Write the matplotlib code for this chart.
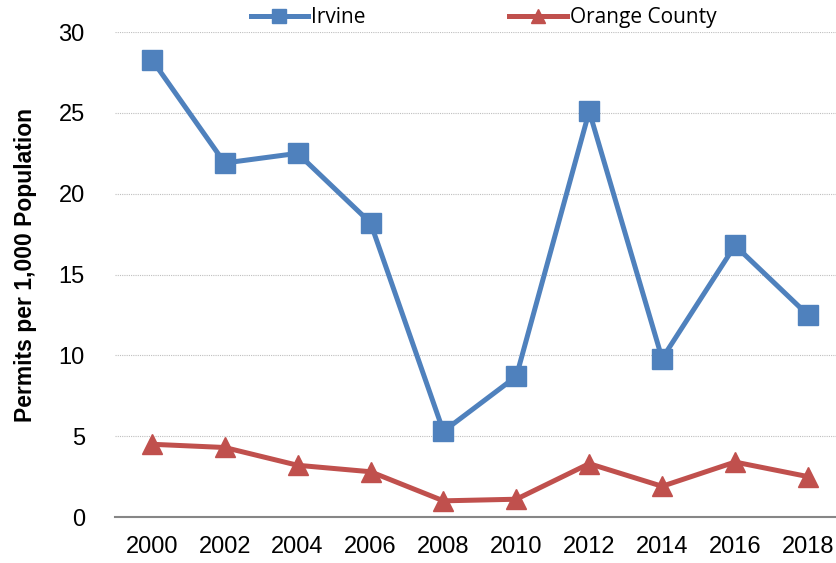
import matplotlib.pyplot as plt
import numpy as np

years = ['2000', '2002', '2004', '2006', '2008', '2010', '2012', '2014', '2016', '2018']
irvine = [28.3, 21.9, 22.5, 18.2, 5.3, 8.7, 25.1, 9.8, 16.8, 12.5]
orange_county = [4.5, 4.3, 3.2, 2.8, 1.0, 1.1, 3.3, 1.9, 3.4, 2.5]

fig = plt.figure(figsize=(8.36, 5.63), dpi=100)
ax = fig.add_axes([0.138, 0.0817, 0.872, 0.8613])

x = np.arange(len(years))
ax.plot(x, irvine, color='#4F81BD', lw=3.6, marker='s', ms=14, label='Irvine')
ax.plot(x, orange_county, color='#C0504D', lw=3.6, marker='^', ms=14, label='Orange County')

ax.set_xlim(-0.5, len(years) - 0.5)
ax.set_ylim(0, 30)
ax.set_yticks(range(0, 31, 5))
ax.set_xticks(x)
ax.set_xticklabels(years)

for lab in ax.get_xticklabels() + ax.get_yticklabels():
    lab.set_family('Liberation Sans')
    lab.set_fontsize(17)

ax.yaxis.grid(True, color='#BFBFBF', linestyle=(0, (1, 1)), lw=0.8)
ax.set_axisbelow(True)
for side in ['top', 'right', 'left']:
    ax.spines[side].set_visible(False)
ax.spines['bottom'].set_color('#868686')
ax.spines['bottom'].set_linewidth(1.5)
ax.tick_params(axis='both', length=0)
ax.tick_params(axis='x', pad=14)
ax.tick_params(axis='y', pad=22)

ax.set_ylabel('Permits per 1,000 Population', fontsize=16.5, fontweight='bold',
              family='Liberation Sans')
ax.yaxis.set_label_coords(-0.108, 0.519)

leg = ax.legend(loc='center', bbox_to_anchor=(0.505, 1.03), ncol=2, frameon=False,
                prop={'family': 'Open Sans', 'size': 15}, columnspacing=6.9,
                handlelength=2.75, handletextpad=0.15, markerscale=0.75)

plt.savefig('out.png', dpi=100)
